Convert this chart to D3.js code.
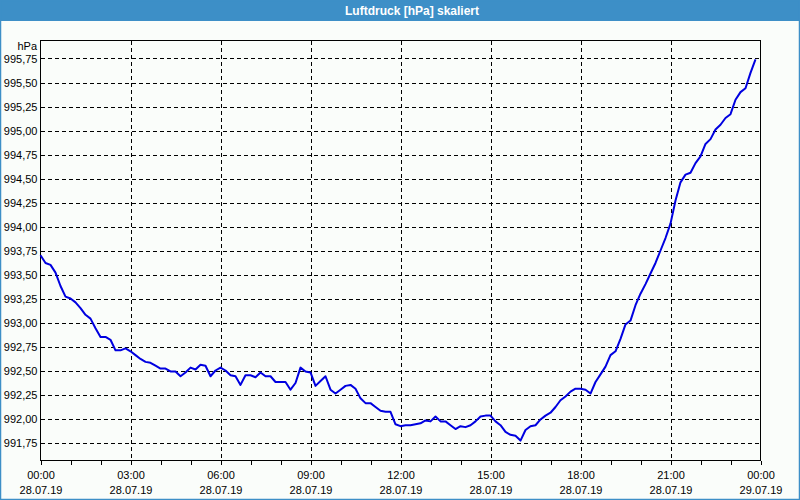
<!DOCTYPE html>
<html>
<head>
<meta charset="utf-8">
<script src="https://cdn.jsdelivr.net/npm/d3@7"></script>
<style>
  html, body { margin: 0; padding: 0; background: #fafdfa; }
  svg { display: block; }
  text { font-family: "Liberation Sans", Arial, sans-serif; }
</style>
</head>
<body>
<svg id="chart" width="800" height="500"></svg>
<script>
// ---- data ----
const title = "Luftdruck [hPa] skaliert";
const unitLabel = "hPa";
const startTime = new Date(2019, 6, 28, 0, 0);
const endTime = new Date(2019, 6, 29, 0, 0);
const stepMinutes = 10;
const pressure = [
  993.70, 993.62, 993.60, 993.52, 993.38, 993.27, 993.25, 993.21, 993.15, 993.08,
  993.04, 992.94, 992.85, 992.85, 992.82, 992.71, 992.71, 992.73, 992.70, 992.66,
  992.62, 992.59, 992.58, 992.55, 992.52, 992.52, 992.49, 992.49, 992.44, 992.48,
  992.53, 992.51, 992.56, 992.55, 992.44, 992.50, 992.53, 992.50, 992.45, 992.44,
  992.35, 992.45, 992.45, 992.43, 992.48, 992.44, 992.44, 992.38, 992.38, 992.38,
  992.30, 992.37, 992.53, 992.49, 992.48, 992.34, 992.39, 992.44, 992.30, 992.26,
  992.30, 992.34, 992.35, 992.31, 992.21, 992.16, 992.16, 992.12, 992.08, 992.07,
  992.07, 991.94, 991.92, 991.93, 991.93, 991.94, 991.95, 991.98, 991.97, 992.02,
  991.97, 991.97, 991.93, 991.89, 991.92, 991.91, 991.93, 991.97, 992.02, 992.03,
  992.03, 991.97, 991.93, 991.86, 991.83, 991.82, 991.77, 991.88, 991.92, 991.93,
  991.99, 992.03, 992.06, 992.12, 992.19, 992.23, 992.28, 992.31, 992.31, 992.30,
  992.26, 992.38, 992.46, 992.54, 992.66, 992.70, 992.83, 992.98, 993.02, 993.18,
  993.30, 993.40, 993.51, 993.62, 993.75, 993.88, 994.03, 994.27, 994.46, 994.54,
  994.56, 994.66, 994.73, 994.86, 994.91, 995.01, 995.06, 995.13, 995.17, 995.32,
  995.40, 995.44, 995.60, 995.74
];
const yTicks = [991.75, 992.00, 992.25, 992.50, 992.75, 993.00, 993.25, 993.50,
                993.75, 994.00, 994.25, 994.50, 994.75, 995.00, 995.25, 995.50, 995.75];
const yDomain = [991.5625, 995.9375];
const majorTickHours = 3;
const minorTickHours = 1;

// ---- layout ----
const W = 800, H = 500;
const plot = { left: 40.5, right: 760.5, top: 40.5, bottom: 460.5 };

const svg = d3.select("#chart");

// background
svg.append("rect").attr("x", 0).attr("y", 0).attr("width", W).attr("height", H).attr("fill", "#fafdfa");

// window border + title bar
const blue = "#3d8fc7";
svg.append("rect").attr("x", 0).attr("y", 0).attr("width", W).attr("height", 21).attr("fill", blue);
svg.append("rect").attr("x", 0.5).attr("y", 0.5).attr("width", W - 1).attr("height", H - 1)
  .attr("fill", "none").attr("stroke", blue).attr("stroke-width", 1.5);
svg.append("text").attr("x", 412).attr("y", 15).attr("text-anchor", "middle")
  .attr("fill", "#ffffff").attr("font-weight", "bold").attr("font-size", "12px").text(title);

const times = pressure.map((_, i) => new Date(startTime.getTime() + i * stepMinutes * 60000));

const x = d3.scaleTime().domain([startTime, endTime]).range([plot.left, plot.right]);
const y = d3.scaleLinear().domain(yDomain).range([plot.bottom, plot.top]);

const locale = d3.formatLocale({ decimal: ",", thousands: ".", grouping: [3], currency: ["", "€"] });
const fmtY = locale.format(".2f");
const fmtTime = d3.timeFormat("%H:%M");
const fmtDate = d3.timeFormat("%d.%m.%y");

const majorTicks = d3.timeHour.every(majorTickHours).range(startTime, new Date(endTime.getTime() + 1));
const minorTicks = d3.timeHour.every(minorTickHours).range(startTime, new Date(endTime.getTime() + 1));

// grid
const grid = svg.append("g").attr("stroke", "#000").attr("stroke-width", 1)
  .attr("stroke-dasharray", "4,3").attr("shape-rendering", "crispEdges");
yTicks.forEach(v => {
  const yy = Math.round(y(v)) + 0.5;
  grid.append("line").attr("x1", plot.left).attr("x2", plot.right).attr("y1", yy).attr("y2", yy);
});
majorTicks.slice(1, -1).forEach(t => {
  const xx = Math.round(x(t)) + 0.5;
  grid.append("line").attr("x1", xx).attr("x2", xx).attr("y1", plot.top).attr("y2", plot.bottom);
});

// y axis
const yAxis = d3.axisLeft(y).tickValues(yTicks).tickFormat(fmtY).tickSize(0).tickPadding(3);
const gy = svg.append("g").attr("transform", `translate(${plot.left},0)`).call(yAxis);
gy.select(".domain").remove();
gy.selectAll("text").attr("font-size", "11px").attr("fill", "#000")
  .attr("font-family", "Liberation Sans, Arial, sans-serif");

// x axis minor ticks
const xMinor = d3.axisBottom(x).tickValues(minorTicks).tickSize(4).tickFormat("");
const gxm = svg.append("g").attr("transform", `translate(0,${plot.bottom})`).call(xMinor);
gxm.select(".domain").remove();
gxm.selectAll("line").attr("stroke", "#000").attr("shape-rendering", "crispEdges");

// x axis labels
const xAxis = d3.axisBottom(x).tickValues(majorTicks).tickSize(0).tickFormat("");
const gx = svg.append("g").attr("transform", `translate(0,${plot.bottom})`).call(xAxis);
gx.select(".domain").remove();
gx.selectAll(".tick").each(function(d) {
  const g = d3.select(this);
  g.append("text").attr("y", 18).attr("text-anchor", "middle").attr("fill", "#000")
    .attr("font-size", "11px").text(fmtTime(d));
  g.append("text").attr("y", 33).attr("text-anchor", "middle").attr("fill", "#000")
    .attr("font-size", "11px").text(fmtDate(d));
});

// plot frame
svg.append("rect").attr("x", plot.left).attr("y", plot.top)
  .attr("width", plot.right - plot.left).attr("height", plot.bottom - plot.top)
  .attr("fill", "none").attr("stroke", "#000").attr("stroke-width", 1).attr("shape-rendering", "crispEdges");

// unit label
svg.append("text").attr("x", 37).attr("y", 50).attr("text-anchor", "end")
  .attr("font-size", "11px").attr("fill", "#000").text(unitLabel);

// line
const line = d3.line().x((d, i) => x(times[i])).y(d => y(d));
svg.append("path").datum(pressure).attr("d", line)
  .attr("fill", "none").attr("stroke", "#0000e0").attr("stroke-width", 2)
  .attr("stroke-linejoin", "round");
</script>
</body>
</html>
